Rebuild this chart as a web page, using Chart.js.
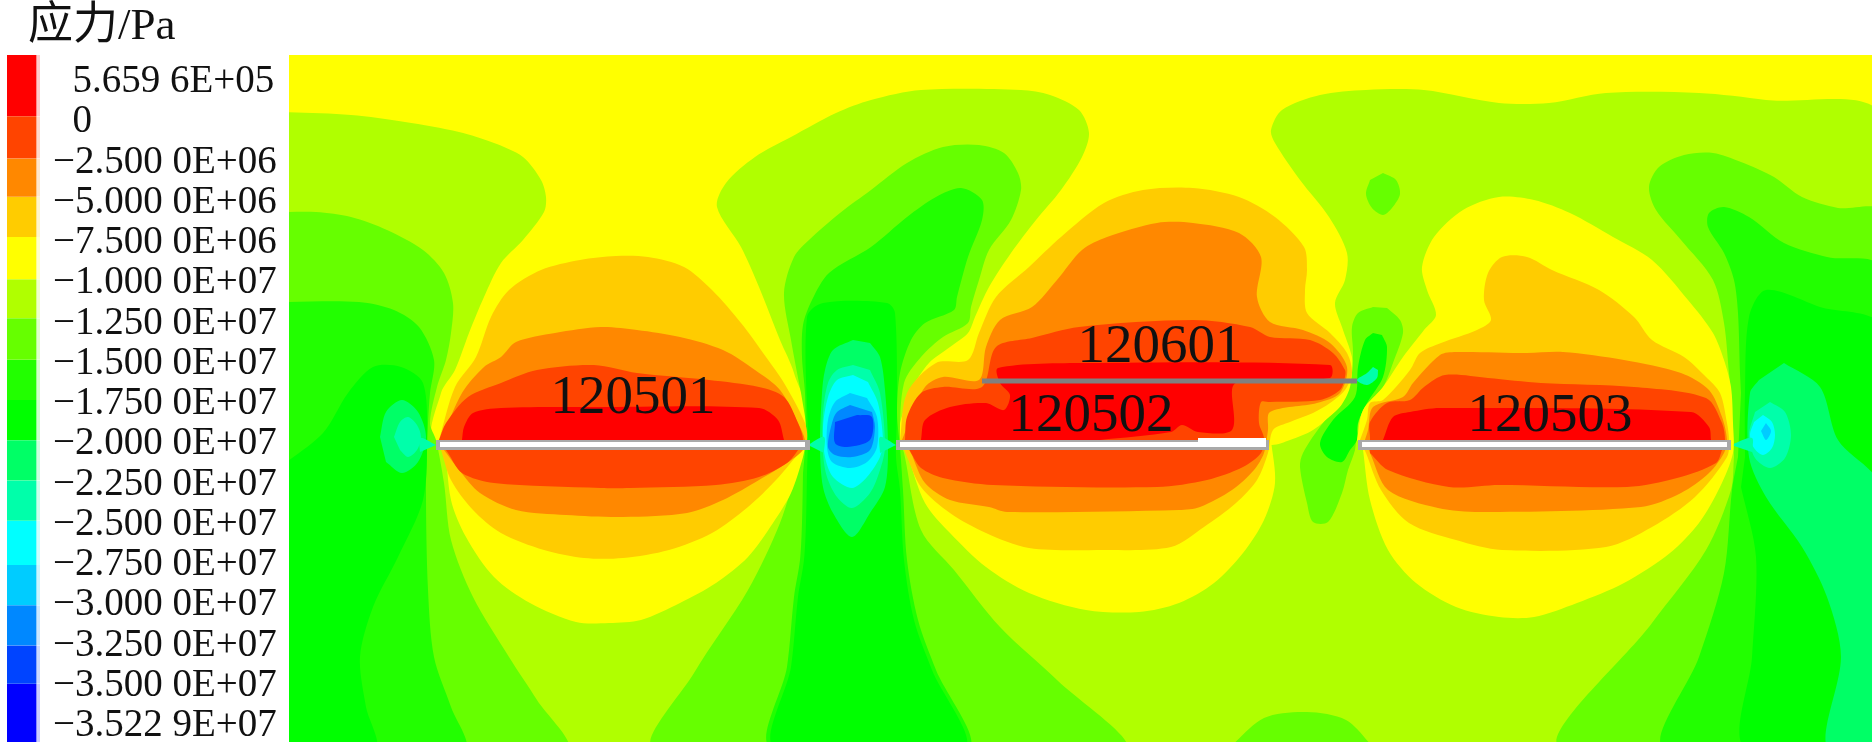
<!DOCTYPE html>
<html>
<head>
<meta charset="utf-8">
<title>应力/Pa</title>
<script src="https://cdn.jsdelivr.net/npm/chart.js@4"></script>
<style>
  body { margin: 0; background: #fff; }
  canvas { position: absolute; }
  #legendChart { left: 0; top: 0; }
  #mapChart { left: 289px; top: 55px; }
</style>
</head>
<body>
<canvas id="legendChart" width="289" height="744"></canvas>
<canvas id="mapChart" width="1583" height="687"></canvas>
<script>
const legendTitle = "应力/Pa";
const legendLabels = ["5.659 6E+05", "0", "−2.500 0E+06", "−5.000 0E+06", "−7.500 0E+06", "−1.000 0E+07",
  "−1.250 0E+07", "−1.500 0E+07", "−1.750 0E+07", "−2.000 0E+07", "−2.250 0E+07", "−2.500 0E+07",
  "−2.750 0E+07", "−3.000 0E+07", "−3.250 0E+07", "−3.500 0E+07", "−3.522 9E+07"];
// band edges in legend rows, top to bottom
const bandEdges = [-0.57, 0.95, 2, 2.95, 3.95, 5, 5.97, 7, 8, 9, 10, 11, 12.1, 13.1, 14.1, 15.05, 16.5];
const bandColors = ["#ff0000", "#ff4400", "#ff8800", "#ffcc00", "#ffff00", "#b0ff00", "#66ff00", "#22ff00",
  "#00ff00", "#00ff66", "#00ffaa", "#00ffff", "#00ccff", "#0088ff", "#0044ff", "#0000ff"];

const panelNames = ["120501", "120601", "120502", "120503"];
const panelNameX = [633, 1160, 1091, 1550];
const panelNameY = [413, 362, 431, 431];

// contour outlines, x and y in picture pixels
const wholeField = [[280, 50], [1880, 50], [1880, 748], [280, 748]];
const over10Mpa = [[280, 112], [351, 115], [405, 122], [459, 132], [494, 143], [523, 157], [541, 180], [546, 197], [544, 212], [523, 240], [501, 263], [484, 297], [469, 333], [455, 370], [441, 393], [436, 440], [809, 440], [794, 373], [780, 340], [759, 287], [741, 247], [717, 207], [726, 183], [755, 157], [791, 137], [836, 113], [871, 100], [921, 90], [1021, 90], [1050, 95], [1079, 110], [1089, 133], [1082, 157], [1061, 190], [1036, 220], [1011, 253], [989, 287], [975, 317], [968, 333], [950, 347], [929, 363], [911, 390], [900, 423], [896, 440], [1272, 445], [1290, 440], [1313, 430], [1337, 410], [1353, 390], [1353, 375], [1352, 357], [1342, 327], [1335, 303], [1345, 280], [1347, 253], [1329, 217], [1300, 180], [1275, 143], [1271, 130], [1282, 110], [1320, 95], [1366, 90], [1424, 90], [1499, 103], [1549, 103], [1606, 93], [1699, 93], [1766, 100], [1880, 117], [1880, 748], [280, 748]];

const over125Left = [[280, 212], [316, 212], [351, 217], [387, 230], [423, 250], [444, 273], [453, 303], [451, 333], [446, 360], [437, 387], [430, 423], [436, 440], [444, 483], [451, 540], [473, 597], [509, 657], [537, 700], [566, 748], [280, 748]];
const over125Mid = [[801, 393], [791, 340], [784, 293], [794, 257], [809, 240], [840, 213], [871, 190], [907, 163], [943, 147], [979, 145], [1004, 153], [1018, 173], [1021, 190], [1011, 220], [989, 250], [979, 280], [971, 307], [968, 323], [943, 337], [921, 357], [904, 383], [900, 440], [904, 453], [921, 530], [954, 570], [1000, 627], [1057, 680], [1123, 748], [655, 748], [694, 673], [748, 590], [780, 523], [801, 457], [809, 440]];
const over125Bottom = [[1229, 748], [1264, 718], [1307, 712], [1346, 720], [1374, 748]];
const over125Dot = [[1383, 173], [1396, 180], [1400, 194], [1392, 208], [1383, 215], [1372, 208], [1366, 194], [1370, 180]];
const over125Gap = [[1373, 307], [1358, 313], [1352, 327], [1353, 353], [1350, 387], [1340, 407], [1323, 423], [1303, 453], [1300, 467], [1307, 503], [1313, 522], [1328, 522], [1342, 493], [1348, 470], [1355, 450], [1357, 430], [1363, 410], [1383, 387], [1393, 363], [1403, 333], [1400, 320], [1387, 308]];
const over125Right = [[1731, 393], [1729, 373], [1724, 323], [1713, 280], [1681, 240], [1656, 210], [1649, 187], [1659, 167], [1684, 155], [1713, 153], [1741, 162], [1774, 177], [1802, 197], [1838, 208], [1880, 212], [1880, 748], [1560, 748], [1652, 623], [1706, 550], [1731, 490], [1734, 457]];

const over15Left = [[280, 302], [359, 302], [394, 310], [419, 327], [434, 360], [430, 393], [428, 423], [426, 490], [428, 590], [434, 657], [451, 707], [464, 748], [280, 748]];
const over15Mid = [[806, 440], [805, 393], [802, 357], [803, 325], [812, 300], [829, 273], [871, 247], [907, 217], [936, 197], [961, 188], [982, 200], [982, 220], [968, 257], [957, 297], [954, 310], [925, 323], [911, 340], [900, 373], [897, 413], [900, 447], [903, 490], [907, 560], [918, 620], [936, 670], [968, 748], [771, 748], [787, 667], [794, 597], [800, 560], [802, 523], [803, 473]];
const over15Right = [[1741, 393], [1740, 373], [1738, 313], [1734, 280], [1724, 253], [1708, 227], [1709, 213], [1724, 207], [1749, 217], [1784, 243], [1827, 257], [1880, 268], [1880, 748], [1664, 748], [1699, 657], [1724, 573], [1732, 490], [1738, 457]];

const over175Left = [[280, 467], [323, 433], [348, 393], [373, 367], [401, 367], [423, 383], [427, 440], [423, 500], [398, 557], [373, 607], [360, 657], [366, 707], [375, 748], [280, 748]];
const over175Mid = [[808, 440], [807, 317], [823, 303], [887, 303], [895, 313], [897, 413], [896, 457], [900, 490], [904, 560], [914, 620], [932, 670], [964, 748], [775, 748], [791, 667], [798, 597], [804, 560], [806, 523], [807, 473]];
const over175Gap = [[1373, 333], [1365, 340], [1358, 367], [1355, 397], [1333, 420], [1320, 443], [1327, 457], [1342, 462], [1350, 450], [1357, 440], [1358, 423], [1367, 403], [1383, 377], [1387, 347], [1382, 335]];
const over175Right = [[1745, 457], [1745, 393], [1749, 317], [1766, 290], [1820, 307], [1880, 327], [1880, 748], [1745, 748], [1752, 657], [1756, 557], [1741, 487]];

const over20Left = [[380, 437], [386, 412], [402, 400], [418, 412], [426, 437], [418, 462], [402, 473], [386, 462]];
const over225Left = [[394, 437], [400, 422], [408, 417], [417, 425], [421, 437], [417, 450], [408, 457], [400, 450]];
const tailBar1Left = [[436, 445], [420, 438], [420, 452]];
const over20Mid = [[853, 340], [833, 350], [825, 370], [822, 393], [820, 447], [823, 487], [833, 513], [852, 537], [870, 513], [885, 487], [888, 447], [885, 390], [880, 357], [870, 343]];
const over225Mid = [[853, 365], [837, 370], [828, 383], [823, 413], [823, 453], [827, 477], [837, 497], [852, 508], [870, 493], [880, 470], [885, 447], [880, 393], [870, 370]];
const over25Mid = [[853, 375], [837, 380], [828, 397], [823, 427], [825, 457], [833, 477], [852, 488], [867, 477], [880, 457], [883, 440], [878, 403], [868, 382]];
const over275Mid = [[850, 393], [835, 402], [828, 420], [827, 447], [832, 462], [850, 468], [867, 462], [877, 447], [877, 417], [867, 398]];
const over30Mid = [[850, 405], [837, 412], [832, 423], [828, 447], [835, 455], [852, 457], [870, 450], [875, 427], [872, 412]];
const over325Mid = [[835, 422], [835, 443], [847, 447], [870, 440], [872, 417], [857, 415]];
const tailMidLeft = [[808, 445], [824, 437], [824, 453]];
const tailMidRight = [[896, 445], [880, 437], [880, 453]];
const over20Gap = [[1373, 367], [1367, 373], [1357, 380], [1367, 385], [1377, 378], [1378, 370]];
const over20Right = [[1784, 363], [1820, 387], [1838, 440], [1880, 487], [1880, 748], [1827, 748], [1841, 657], [1827, 597], [1802, 547], [1766, 497], [1749, 457], [1750, 393], [1759, 380]];
const over225Right = [[1770, 402], [1785, 412], [1791, 435], [1785, 458], [1770, 468], [1755, 458], [1749, 435], [1755, 412]];
const over25Right = [[1763, 415], [1772, 422], [1775, 435], [1772, 448], [1763, 455], [1754, 448], [1750, 435], [1754, 422]];
const over275Right = [[1766, 423], [1771, 431], [1766, 440], [1761, 431]];
const tailBar3Right = [[1731, 445], [1752, 438], [1752, 452]];

const under10Lobe1 = [[445, 440], [451, 500], [466, 537], [494, 577], [530, 603], [576, 622], [609, 623], [641, 620], [680, 603], [716, 583], [748, 557], [773, 523], [791, 493], [803, 457], [806, 440]];
const under10Lobe2 = [[903, 440], [907, 453], [925, 503], [950, 533], [986, 567], [1029, 593], [1086, 610], [1139, 612], [1179, 603], [1214, 583], [1243, 553], [1264, 520], [1275, 483], [1271, 440]];
const under10Blob3 = [[1357, 440], [1363, 410], [1383, 387], [1403, 357], [1424, 330], [1436, 315], [1427, 290], [1422, 267], [1434, 237], [1463, 210], [1499, 197], [1534, 200], [1570, 213], [1613, 237], [1652, 260], [1688, 300], [1713, 333], [1724, 360], [1731, 387], [1733, 423], [1733, 453], [1720, 487], [1699, 523], [1670, 553], [1624, 583], [1577, 603], [1534, 617], [1499, 617], [1456, 607], [1416, 583], [1388, 550], [1370, 500], [1363, 450]];

const under75A = [[439, 440], [455, 387], [476, 357], [491, 317], [509, 290], [541, 270], [580, 260], [616, 256], [648, 257], [684, 267], [712, 290], [741, 323], [766, 357], [784, 383], [805, 423], [807, 440], [801, 450], [776, 480], [748, 507], [712, 533], [669, 550], [623, 558], [584, 558], [544, 550], [501, 533], [473, 510], [451, 480], [441, 450]];
const under75B = [[900, 440], [907, 393], [936, 363], [968, 360], [979, 333], [996, 297], [1029, 267], [1061, 237], [1104, 203], [1143, 190], [1193, 188], [1239, 197], [1275, 217], [1304, 247], [1307, 270], [1305, 290], [1307, 313], [1330, 333], [1347, 353], [1352, 373], [1345, 390], [1330, 403], [1313, 413], [1290, 422], [1273, 430], [1268, 453], [1257, 480], [1236, 503], [1204, 527], [1171, 547], [1104, 550], [1029, 548], [986, 533], [950, 513], [921, 487], [907, 457]];
const under75C = [[1360, 440], [1367, 420], [1370, 403], [1383, 400], [1410, 370], [1420, 353], [1441, 343], [1477, 330], [1491, 320], [1484, 300], [1488, 273], [1502, 257], [1527, 257], [1552, 270], [1599, 290], [1634, 317], [1652, 340], [1684, 357], [1706, 377], [1720, 393], [1727, 423], [1729, 440], [1727, 457], [1695, 497], [1652, 527], [1606, 547], [1502, 550], [1456, 540], [1409, 523], [1381, 490], [1366, 453]];

const under5A = [[441, 440], [462, 393], [484, 367], [501, 357], [516, 342], [555, 333], [601, 327], [637, 330], [680, 337], [723, 350], [755, 370], [780, 390], [798, 423], [805, 440], [803, 450], [787, 463], [759, 480], [723, 500], [687, 513], [623, 517], [566, 515], [516, 510], [480, 493], [459, 470], [444, 450]];
const under5B = [[902, 440], [910, 420], [925, 387], [943, 377], [979, 380], [986, 347], [1000, 320], [1032, 307], [1057, 280], [1082, 250], [1107, 237], [1157, 223], [1193, 223], [1239, 233], [1261, 257], [1257, 297], [1270, 322], [1303, 330], [1330, 343], [1347, 367], [1340, 393], [1317, 403], [1270, 412], [1268, 430], [1264, 453], [1254, 470], [1232, 490], [1200, 507], [1179, 510], [1007, 512], [989, 507], [950, 500], [925, 483], [911, 453]];
const under5C = [[1365, 440], [1368, 430], [1373, 407], [1403, 397], [1413, 383], [1440, 355], [1456, 352], [1527, 353], [1563, 352], [1624, 360], [1681, 373], [1709, 390], [1722, 417], [1727, 440], [1724, 453], [1709, 473], [1681, 493], [1641, 507], [1481, 512], [1438, 508], [1388, 490], [1370, 453]];

const under25A = [[439, 440], [446, 423], [468, 397], [501, 383], [537, 370], [594, 365], [637, 373], [709, 380], [759, 387], [784, 397], [798, 423], [803, 440], [798, 450], [787, 463], [759, 477], [716, 485], [630, 488], [601, 488], [494, 483], [462, 473], [448, 453]];
const under25B = [[905, 440], [907, 417], [921, 393], [943, 387], [982, 387], [996, 347], [1032, 338], [1079, 327], [1193, 320], [1250, 327], [1270, 337], [1310, 340], [1333, 353], [1345, 370], [1345, 377], [1340, 390], [1320, 400], [1270, 402], [1261, 402], [1259, 423], [1264, 438], [1261, 453], [1243, 467], [1207, 480], [1157, 487], [993, 485], [943, 478], [921, 468], [911, 453]];
const under25C = [[1370, 437], [1370, 422], [1387, 403], [1410, 400], [1424, 387], [1445, 375], [1488, 378], [1541, 383], [1634, 387], [1706, 398], [1722, 423], [1725, 440], [1722, 450], [1716, 463], [1677, 478], [1627, 487], [1499, 485], [1449, 487], [1388, 470], [1370, 453]];

const overZeroA = [[462, 440], [464, 427], [473, 413], [501, 408], [594, 407], [759, 408], [778, 420], [784, 440]];
const overZeroB = [[921, 440], [925, 420], [950, 407], [986, 403], [1004, 410], [1010, 395], [1000, 383], [998, 368], [1086, 363], [1330, 365], [1330, 378], [1236, 383], [1232, 390], [1232, 430], [1198, 432], [1182, 425], [1171, 432], [1100, 440]];
const overZeroC = [[1383, 440], [1393, 417], [1410, 412], [1440, 408], [1691, 412], [1709, 427], [1711, 440]];

const panelA = [[436, 445], [810, 445]];
const panelB = [[896, 445], [1269, 445]];
const panelC = [[1358, 445], [1731, 445]];
const panelFaceA = [[440, 444.5], [805, 444.5]];
const panelFaceB = [[900, 444.5], [1266, 444.5]];
const panelFaceC = [[1362, 444.5], [1727, 444.5]];
const panelBEnd = [[1198, 442], [1266, 442]];
const panelUpper = [[982, 381], [1357, 381]];

const contourLayers = [
  [wholeField, "#ffff00"],
  [over10Mpa, "#b0ff00"],
  [over125Left, "#66ff00"], [over125Mid, "#66ff00"], [over125Bottom, "#66ff00"], [over125Dot, "#66ff00"], [over125Gap, "#66ff00"], [over125Right, "#66ff00"],
  [over15Left, "#22ff00"], [over15Mid, "#22ff00"], [over15Right, "#22ff00"],
  [over175Left, "#00ff00"], [over175Mid, "#00ff00"], [over175Gap, "#00ff00"], [over175Right, "#00ff00"],
  [over20Left, "#00ff66"], [over225Left, "#00ffaa"], [tailBar1Left, "#00ffaa"],
  [over20Right, "#00ff66"], [over225Right, "#00ffaa"], [over25Right, "#00ffff"], [over275Right, "#00ccff"], [tailBar3Right, "#00ffaa"],
  [over20Gap, "#00ffaa"],
  [over20Mid, "#00ff66"], [over225Mid, "#00ffaa"], [over25Mid, "#00ffff"], [over275Mid, "#00ccff"], [over30Mid, "#0088ff"], [over325Mid, "#0044ff"],
  [tailMidLeft, "#00ffaa"], [tailMidRight, "#00ffaa"],
  [under10Lobe1, "#ffff00"], [under10Lobe2, "#ffff00"], [under10Blob3, "#ffff00"],
  [under75A, "#ffcc00"], [under75B, "#ffcc00"], [under75C, "#ffcc00"],
  [under5A, "#ff8800"], [under5B, "#ff8800"], [under5C, "#ff8800"],
  [under25A, "#ff4400"], [under25B, "#ff4400"], [under25C, "#ff4400"],
  [overZeroA, "#ff0000"], [overZeroB, "#ff0000"], [overZeroC, "#ff0000"]
];
const panelLayers = [
  [panelA, "#a9a9a9", 10], [panelB, "#a9a9a9", 10], [panelC, "#a9a9a9", 10],
  [panelFaceA, "#ffffff", 5], [panelFaceB, "#ffffff", 5], [panelFaceC, "#ffffff", 5], [panelBEnd, "#ffffff", 8],
  [panelUpper, "#808080", 5]
];

const serif = '"Liberation Serif", "Noto Sans CJK SC", serif';
const toPoints = (outline) => outline.map(([x, y]) => ({ x, y }));

// legend: one floating bar per band, labels come from the y axis
new Chart(document.getElementById("legendChart"), {
  type: "bar",
  data: {
    labels: [""],
    datasets: bandColors.map((color, i) => ({
      data: [[bandEdges[i], bandEdges[i + 1]]],
      backgroundColor: color,
      borderColor: color + "33",
      borderWidth: { right: 4, left: 0, top: 0, bottom: 0 },
      borderSkipped: false,
      barPercentage: 1,
      categoryPercentage: 1,
      grouped: false,
    })),
  },
  options: {
    responsive: false,
    animation: false,
    layout: { padding: { left: 7, top: 55, bottom: 2 } },
    plugins: { legend: { display: false }, tooltip: { enabled: false } },
    scales: {
      x: { display: false },
      y: {
        position: "right",
        reverse: true,
        min: bandEdges[0],
        max: bandEdges[bandEdges.length - 1],
        grid: { display: false },
        border: { display: false },
        // labels sit a little under the nominal row line
        afterBuildTicks: (scale) => { scale.ticks = legendLabels.map((_, i) => ({ value: i + 0.1 })); },
        afterFit: (scale) => { scale.width = 249; scale.paddingTop = 0; scale.paddingBottom = 0; },
        ticks: {
          autoSkip: false,
          padding: 5,
          color: "#111",
          font: { family: serif, size: 39 },
          // the minus sign hangs left of the digits
          callback: (value) => {
            const label = legendLabels[Math.floor(value)];
            return (label.startsWith("−") ? "" : "\u2002") + label;
          },
        },
      },
    },
  },
  plugins: [{
    id: "legendTitle",
    afterDraw(chart) {
      const ctx = chart.ctx;
      ctx.save();
      ctx.fillStyle = "#111";
      ctx.font = "45px " + serif;
      ctx.fillText(legendTitle, 28, 39);
      ctx.restore();
    },
  }],
});

// stress map: filled contour outlines painted lowest band first
const fillSets = contourLayers.map(([outline, color]) => ({
  data: toPoints(outline),
  showLine: true,
  fill: "shape",
  tension: 0.3,
  borderWidth: 0,
  pointRadius: 0,
  backgroundColor: color,
}));
const panelSets = panelLayers.map(([outline, color, width]) => ({
  data: toPoints(outline),
  showLine: true,
  borderWidth: width,
  borderColor: color,
  pointRadius: 0,
}));
const mapSets = fillSets.concat(panelSets);
mapSets.forEach((set, i) => { set.order = mapSets.length - i; });

new Chart(document.getElementById("mapChart"), {
  type: "scatter",
  data: { datasets: mapSets },
  options: {
    responsive: false,
    animation: false,
    plugins: { legend: { display: false }, tooltip: { enabled: false } },
    scales: {
      x: { display: false, min: 289, max: 1872 },
      y: { display: false, min: 55, max: 742, reverse: true },
    },
  },
  plugins: [{
    id: "panelNames",
    afterDraw(chart) {
      const ctx = chart.ctx;
      ctx.save();
      ctx.fillStyle = "#111";
      ctx.font = "55px " + serif;
      ctx.textAlign = "center";
      panelNames.forEach((name, i) => {
        ctx.fillText(name, chart.scales.x.getPixelForValue(panelNameX[i]), chart.scales.y.getPixelForValue(panelNameY[i]));
      });
      ctx.restore();
    },
  }],
});
</script>
</body>
</html>
